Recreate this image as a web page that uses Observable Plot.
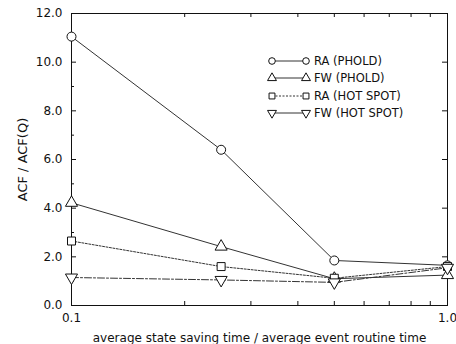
<!DOCTYPE html>
<html>
<head>
<meta charset="utf-8">
<script src="https://cdn.jsdelivr.net/npm/d3@7"></script>
<script src="https://cdn.jsdelivr.net/npm/@observablehq/plot@0.6"></script>
<style>
  html, body { margin: 0; padding: 0; background: #fff; }
  #wrap { position: relative; width: 456px; height: 344px; font-family: "DejaVu Sans", sans-serif; }
  #legend { position: absolute; left: 264px; top: 52px; font-size: 11.5px; color: #111; }
  #legend .row { display: flex; align-items: center; height: 17.5px; }
  #legend svg { display: block; margin-right: 2px; }
</style>
</head>
<body>
<div id="wrap"></div>
<script>
// ---- data ----
const ratios = [0.1, 0.25, 0.5, 1.0];
const seriesNames = ["RA (PHOLD)", "FW (PHOLD)", "RA (HOT SPOT)", "FW (HOT SPOT)"];
const raPhold = [11.05, 6.4, 1.85, 1.65];
const fwPhold = [4.22, 2.42, 1.1, 1.25];
const raHotSpot = [2.65, 1.6, 1.12, 1.6];
const fwHotSpot = [1.15, 1.05, 0.95, 1.55];
const yTickValues = [0, 2, 4, 6, 8, 10, 12];
const yMinorTicks = [1, 3, 5, 7, 9, 11];
const xTickValues = [0.1, 1.0];
const xMinorTicks = [0.2, 0.3, 0.4, 0.5, 0.6, 0.7, 0.8, 0.9];

// ---- symbols ----
const triangleDown = {
  draw(context, size) {
    const y = -Math.sqrt(size / (Math.sqrt(3) * 3));
    context.moveTo(0, -y * 2);
    context.lineTo(-Math.sqrt(3) * y, y);
    context.lineTo(Math.sqrt(3) * y, y);
    context.closePath();
  }
};
const symbols = ["circle", "triangle", "square", triangleDown];
const d3symbols = [d3.symbolCircle, d3.symbolTriangle, d3.symbolSquare, triangleDown];
const dashes = [null, null, "2,1.5", "7,2,2,2"];
const allValues = [raPhold, fwPhold, raHotSpot, fwHotSpot];

const rows = [];
allValues.forEach((vals, s) => vals.forEach((v, i) => rows.push({series: seriesNames[s], s, x: ratios[i], y: v})));

const W = 456, H = 344, mL = 71, mR = 9, mT = 13, mB = 39;
const pw = W - mL - mR, ph = H - mT - mB;

const marks = [
  Plot.frame({stroke: "#111", strokeWidth: 1}),
  // inward ticks
  Plot.tickY(yTickValues, {y: d => d, insetRight: pw - 5, stroke: "#111"}),
  Plot.tickY(yMinorTicks, {y: d => d, insetRight: pw - 3, stroke: "#111"}),
  Plot.tickY(yTickValues, {y: d => d, insetLeft: pw - 5, stroke: "#111"}),
  Plot.tickX(xMinorTicks, {x: d => d, insetTop: ph - 4, stroke: "#111"}),
  Plot.tickX(xMinorTicks, {x: d => d, insetBottom: ph - 4, stroke: "#111"}),
  Plot.axisY(yTickValues, {tickSize: 0, tickPadding: 9, tickFormat: d3.format(".1f"), fontSize: 12, label: null}),
  Plot.axisY({tickSize: 0, ticks: [], label: "ACF / ACF(Q)", labelAnchor: "center", labelOffset: 54, labelArrow: "none", fontSize: 13}),
  Plot.axisX(xTickValues, {tickSize: 0, tickPadding: 8, tickFormat: d3.format(".1f"), fontSize: 12, label: null}),
  Plot.axisX({tickSize: 0, ticks: [], label: "average state saving time / average event routine time", labelAnchor: "center", labelOffset: 36, labelArrow: "none", fontSize: 12})
];
seriesNames.forEach((name, s) => {
  const data = rows.filter(r => r.s === s);
  marks.push(Plot.line(data, {x: "x", y: "y", stroke: "#333", strokeWidth: 1, strokeDasharray: dashes[s]}));
});
seriesNames.forEach((name, s) => {
  const data = rows.filter(r => r.s === s);
  marks.push(Plot.dot(data, {x: "x", y: "y", symbol: () => symbols[s], r: 4.5, stroke: "#111", strokeWidth: 1, fill: "white"}));
});

const chart = Plot.plot({
  width: W, height: H,
  marginLeft: mL, marginRight: mR, marginTop: mT, marginBottom: mB,
  style: {fontFamily: "'DejaVu Sans', sans-serif", fontSize: "12px", color: "#111", background: "white", overflow: "visible"},
  x: {type: "log", domain: [0.1, 1]},
  y: {domain: [0, 12]},
  symbol: {type: "identity"},
  marks
});
const wrap = document.getElementById("wrap");
wrap.appendChild(chart);

// ---- legend (inside plot area) ----
const legend = document.createElement("div");
legend.id = "legend";
seriesNames.forEach((name, s) => {
  const row = document.createElement("div");
  row.className = "row";
  const svg = d3.create("svg").attr("width", 48).attr("height", 14);
  svg.append("line").attr("x1", 8).attr("x2", 42).attr("y1", 7).attr("y2", 7)
    .attr("stroke", "#333").attr("stroke-width", 1).attr("stroke-dasharray", s === 2 ? "2,1.5" : null);
  const p = d3.symbol(d3symbols[s], 3.6 * 3.6 * Math.PI * 0.85)();
  [8, 42].forEach(cx => svg.append("path").attr("d", p).attr("transform", `translate(${cx},7)`)
    .attr("fill", "white").attr("stroke", "#111").attr("stroke-width", 1));
  row.appendChild(svg.node());
  const t = document.createElement("span");
  t.textContent = name;
  row.appendChild(t);
  legend.appendChild(row);
});
wrap.appendChild(legend);
</script>
</body>
</html>
